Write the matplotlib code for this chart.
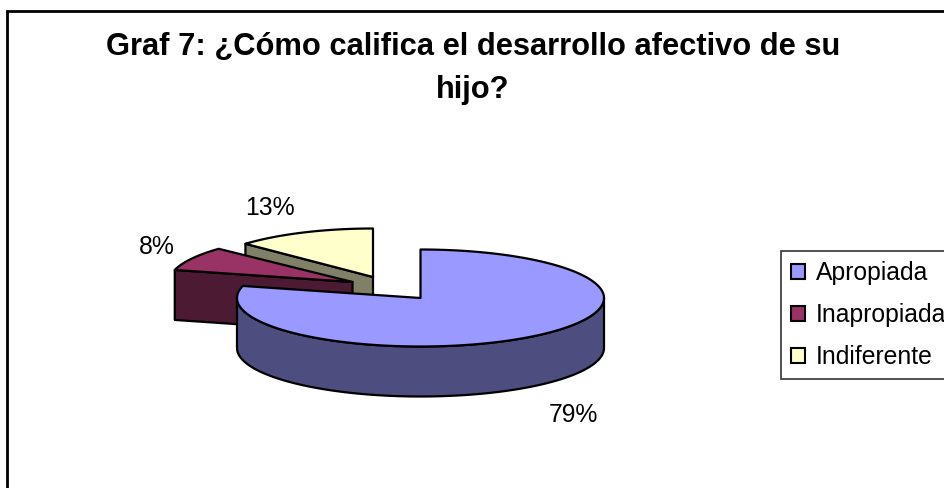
import matplotlib
matplotlib.use("Agg")
import matplotlib.pyplot as plt
import numpy as np
from matplotlib.patches import Patch, Polygon, Rectangle

plt.rcParams['font.family'] = ['Liberation Sans', 'DejaVu Sans']

# datos
categorias = ['Apropiada', 'Inapropiada', 'Indiferente']
valores = [79, 8, 13]
titulo = 'Graf 7: ¿Cómo califica el desarrollo afectivo de su\nhijo?'

# estilo: color de la cara superior y de los lados
colores = ['#9999FF', '#993366', '#FFFFCC']
lados = ['#4D4D80', '#4D1A33', '#808066']

# posicion de cada porcion en pixeles (pastel separado)
centros = [(420.5, 298), (352.5, 282), (373, 277)]
radios_x = [183.5, 183.5, 175]
etiquetas_pos = [(573, 415), (157, 247), (270, 208)]
ry = 48.5
alto = 50
borde = 1.6


def punto(c, rx, ang):
    # angulo en grados, desde las 12 en sentido horario
    a = np.radians(ang)
    return np.column_stack([c[0] + rx * np.sin(a), c[1] - ry * np.cos(a)])


def dibujar_porcion(ax, c, rx, a0, a1, color, lado, z):
    # pared curva: solo la parte que mira al frente (90 a 270)
    ini, fin = max(a0, 90), min(a1, 270)
    if ini < fin:
        arco = punto(c, rx, np.linspace(ini, fin, 120))
        pared = np.vstack([arco, arco[::-1] + [0, alto]])
        ax.add_patch(Polygon(pared, closed=True, fc=lado, ec='black', lw=borde,
                             joinstyle='round', zorder=z))
    # caras de corte visibles
    caras = []
    if 180 < a0 < 360:
        caras.append(a0)
    if 0 < a1 < 180:
        caras.append(a1)
    for ang in caras:
        p = punto(c, rx, [ang])[0]
        cara = [c, p, p + [0, alto], np.array(c) + [0, alto]]
        ax.add_patch(Polygon(cara, closed=True, fc=lado, ec='black', lw=borde,
                             joinstyle='round', zorder=z))
    # cara superior
    arco = punto(c, rx, np.linspace(a0, a1, 240))
    ax.add_patch(Polygon(np.vstack([[c], arco]), closed=True, fc=color, ec='black',
                         lw=borde, joinstyle='round', zorder=z + 0.5))


fig = plt.figure(figsize=(9.45, 4.88), dpi=100)
ax = fig.add_axes([0, 0, 1, 1])
ax.set_xlim(0, 945)
ax.set_ylim(488, 0)
ax.axis('off')

# marco del grafico (se sale por abajo y por la derecha)
ax.add_patch(Rectangle((7, 11), 1200, 800, fc='white', ec='black', lw=2, zorder=0))

ax.text(473, 68.5, titulo, ha='center', va='center', fontsize=22.2, fontweight='bold',
        linespacing=1.55, zorder=5)

# angulos acumulados
total = sum(valores)
cortes = np.concatenate([[0], np.cumsum(valores)]) / total * 360
orden = [2, 1, 0]  # de atras hacia adelante
for n, i in enumerate(orden):
    dibujar_porcion(ax, centros[i], radios_x[i], cortes[i], cortes[i + 1],
                    colores[i], lados[i], 1 + n)

for i, v in enumerate(valores):
    ax.text(etiquetas_pos[i][0], etiquetas_pos[i][1], f'{v}%', ha='center', va='center',
            fontsize=17.8, zorder=6)

# leyenda
handles = [Patch(fc=colores[i], ec='black', lw=1.5, label=categorias[i]) for i in range(3)]
leg = ax.legend(handles=handles, loc='upper left', bbox_to_anchor=(781 / 945, 1 - 251 / 488),
                fontsize=17.8, frameon=True, fancybox=False, framealpha=1, edgecolor='#333333',
                handlelength=0.57, handleheight=0.57, handletextpad=0.42,
                labelspacing=0.72, borderpad=0.42, borderaxespad=0)
leg.get_frame().set_linewidth(1.2)
leg.set_zorder(7)

fig.savefig('out.png', dpi=100)
